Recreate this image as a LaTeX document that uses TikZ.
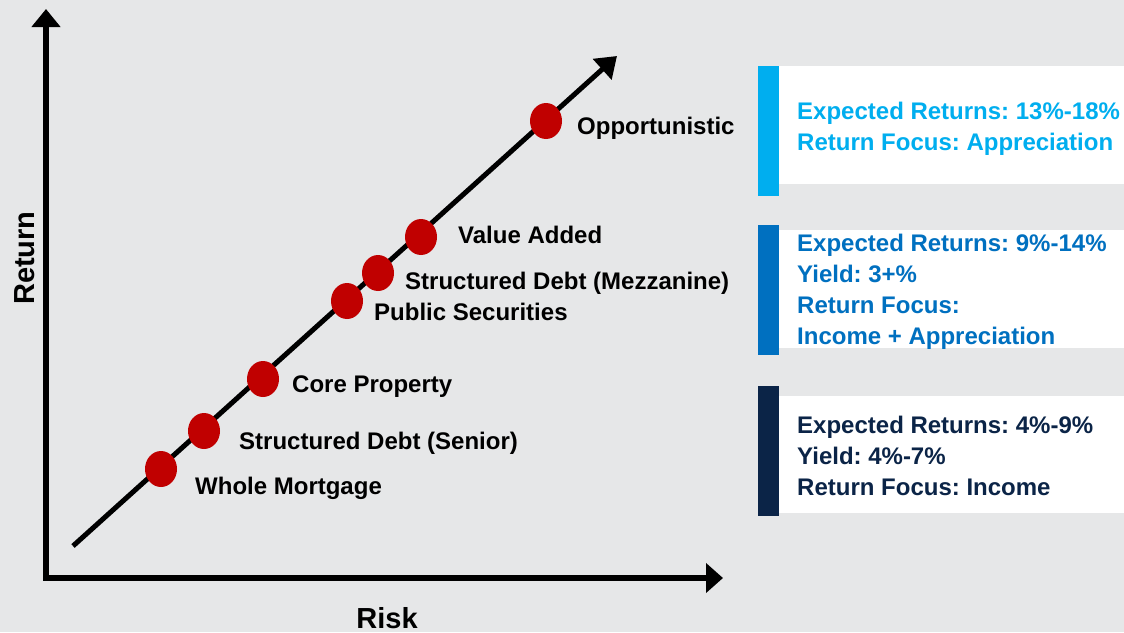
\documentclass[tikz,border=0pt]{standalone}
\usepackage{fontspec}
\setmainfont{Liberation Sans}
\frenchspacing
\usetikzlibrary{arrows.meta,shapes.geometric}
\definecolor{bggray}{HTML}{E6E7E8}
\definecolor{dotred}{HTML}{C00000}
\definecolor{skyblue}{HTML}{00AEEF}
\definecolor{midblue}{HTML}{0070C0}
\definecolor{navyblue}{HTML}{0B2447}

\begin{document}
\begin{tikzpicture}[x=1pt,y=-1pt,
    dot/.style={ellipse,fill=dotred,minimum width=32pt,minimum height=36pt,inner sep=0pt},
    lbl/.style={anchor=base west,inner sep=0pt,font=\bfseries\fontsize{24}{29}\selectfont},
    axislbl/.style={anchor=base,inner sep=0pt,font=\bfseries\fontsize{29}{34}\selectfont},
    info/.style={anchor=base west,inner sep=0pt,align=left,font=\bfseries\fontsize{24}{31}\selectfont}]
  \fill[bggray] (0,0) rectangle (1124,632);
  \useasboundingbox (0,0) rectangle (1124,632);

  % axes
  \coordinate (ytop) at (46,9);
  \coordinate (origin) at (46,578);
  \coordinate (xend) at (723,578);
  \draw[line width=5.5pt,{Triangle[length=18pt,width=28pt]}-{Triangle[length=17pt,width=29pt]}]
    (ytop) -- (origin) -- (xend);
  \node[axislbl,rotate=90] (ret) at (34,258) {Return};
  \node[axislbl] (risk) at (387,628) {Risk};

  % risk/return line
  \coordinate (lo) at (73,546);
  \coordinate (hi) at (617,56);
  \draw[line width=5pt,-{Triangle[length=20pt,width=27pt]}] (lo) -- (hi);

  \node[dot] (whole) at (161,469) {};
  \node[dot] (senior) at (204,431) {};
  \node[dot] (core) at (263,379) {};
  \node[dot] (public) at (347,301) {};
  \node[dot] (mezz) at (378,273) {};
  \node[dot] (value) at (421,237) {};
  \node[dot] (opport) at (546,121) {};

  \node[lbl] (whole-lbl) at (195,494) {Whole Mortgage};
  \node[lbl] (senior-lbl) at (239,449) {Structured Debt (Senior)};
  \node[lbl] (core-lbl) at (292,392) {Core Property};
  \node[lbl] (public-lbl) at (374,320) {Public Securities};
  \node[lbl] (mezz-lbl) at (405,289) {Structured Debt (Mezzanine)};
  \node[lbl] (value-lbl) at (458,243) {Value Added};
  \node[lbl] (opport-lbl) at (577,134) {Opportunistic};

  % return boxes (base = last line)
  \fill[skyblue] (758,66) rectangle (779,196);
  \fill[white] (779,66) rectangle (1124,184);
  \node[info,text=skyblue] (hi-box) at (797,150)
    {Expected Returns: 13\%-18\%\\Return Focus: Appreciation};

  \fill[midblue] (758,225) rectangle (779,355);
  \fill[white] (779,230) rectangle (1124,348);
  \node[info,text=midblue] (mid-box) at (797,344)
    {Expected Returns: 9\%-14\%\\Yield: 3+\%\\Return Focus:\\Income + Appreciation};

  \fill[navyblue] (758,386) rectangle (779,516);
  \fill[white] (779,396) rectangle (1124,513);
  \node[info,text=navyblue] (lo-box) at (797,495)
    {Expected Returns: 4\%-9\%\\Yield: 4\%-7\%\\Return Focus: Income};
\end{tikzpicture}
\end{document}
